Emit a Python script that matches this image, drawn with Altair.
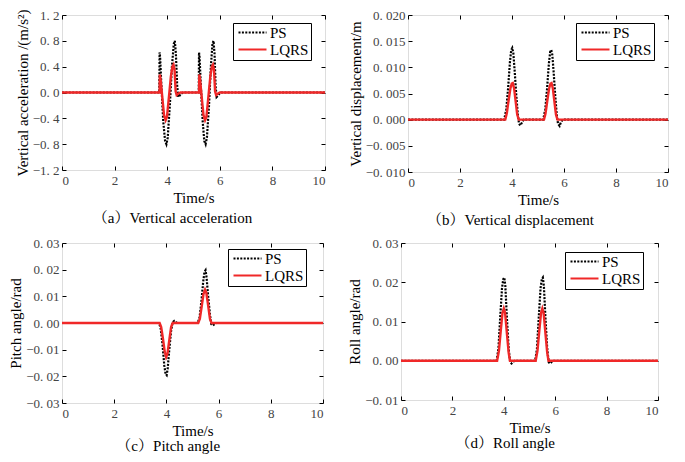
import altair as alt
import pandas as pd

# ---------------- data ----------------
SERIES = ["PS", "LQRS"]
X_TICKS = [0, 2, 4, 6, 8, 10]

# (a) vertical acceleration, m/s^2
A_PS = [(0, 0), (3.70, 0), (3.71, 0.62), (3.73, 0.55), (3.78, 0.10), (3.85, -0.45),
        (3.92, -0.75), (3.97, -0.80), (4.02, -0.70), (4.10, -0.20), (4.18, 0.40),
        (4.25, 0.75), (4.29, 0.80), (4.33, 0.60), (4.38, 0.10), (4.42, -0.07),
        (4.47, -0.05), (4.52, -0.02), (4.60, 0), (5.20, 0), (5.21, 0.62), (5.23, 0.55),
        (5.28, 0.10), (5.35, -0.45), (5.41, -0.75), (5.46, -0.80), (5.51, -0.70),
        (5.59, -0.20), (5.66, 0.40), (5.72, 0.75), (5.76, 0.80), (5.80, 0.60),
        (5.84, 0.10), (5.88, -0.07), (5.93, -0.05), (5.98, -0.02), (6.05, 0), (10, 0)]
A_LQ = [(0, 0), (3.71, 0), (3.72, 0.28), (3.75, 0.20), (3.82, -0.10), (3.88, -0.35),
        (3.94, -0.43), (3.99, -0.38), (4.07, -0.05), (4.14, 0.25), (4.20, 0.40),
        (4.24, 0.43), (4.28, 0.35), (4.32, 0.02), (4.36, -0.04), (4.42, -0.02),
        (4.50, 0), (5.21, 0), (5.22, 0.28), (5.25, 0.20), (5.32, -0.10), (5.38, -0.35),
        (5.44, -0.43), (5.49, -0.38), (5.57, -0.05), (5.64, 0.25), (5.70, 0.40),
        (5.74, 0.43), (5.78, 0.35), (5.82, 0.02), (5.86, -0.04), (5.92, -0.02),
        (6.00, 0), (10, 0)]
A_YTICKS = [-1.2, -0.8, -0.4, 0.0, 0.4, 0.8, 1.2]

# (b) vertical displacement, m
B_PS = [(0, 0), (3.70, 0), (3.78, 0.002), (3.85, 0.006), (3.92, 0.0110), (3.97, 0.0133),
        (4.01, 0.0137), (4.05, 0.0128), (4.10, 0.0095), (4.16, 0.0050), (4.22, 0.0012),
        (4.27, -0.0008), (4.32, -0.0011), (4.38, -0.0006), (4.45, 0), (5.20, 0),
        (5.28, 0.002), (5.35, 0.006), (5.42, 0.0108), (5.47, 0.0130), (5.51, 0.0133),
        (5.55, 0.0124), (5.60, 0.0092), (5.66, 0.0048), (5.72, 0.0010), (5.77, -0.0008),
        (5.83, -0.0012), (5.88, -0.0005), (5.95, 0), (10, 0)]
B_LQ = [(0, 0), (3.74, 0), (3.80, 0.0012), (3.87, 0.0037), (3.94, 0.0060), (3.99, 0.0069),
        (4.03, 0.0070), (4.08, 0.0060), (4.14, 0.0035), (4.20, 0.0010), (4.26, 0),
        (5.23, 0), (5.29, 0.0012), (5.36, 0.0037), (5.43, 0.0060), (5.48, 0.0069),
        (5.52, 0.0070), (5.57, 0.0060), (5.63, 0.0035), (5.69, 0.0010), (5.75, 0), (10, 0)]
B_YTICKS = [-0.010, -0.005, 0.000, 0.005, 0.010, 0.015, 0.020]

# (c) pitch angle, rad
C_PS = [(0, 0), (3.72, 0), (3.78, -0.002), (3.85, -0.008), (3.92, -0.016), (3.97, -0.0192),
        (4.01, -0.0196), (4.05, -0.017), (4.11, -0.010), (4.18, -0.003), (4.24, 0.0003),
        (4.30, 0.0008), (4.36, 0.0003), (4.42, 0), (5.20, 0), (5.27, 0.002), (5.34, 0.008),
        (5.41, 0.0155), (5.46, 0.0192), (5.50, 0.0198), (5.54, 0.017), (5.60, 0.010),
        (5.67, 0.003), (5.72, -0.0004), (5.78, -0.0009), (5.84, -0.0004), (5.90, 0), (10, 0)]
C_LQ = [(0, 0), (3.74, 0), (3.80, -0.0015), (3.87, -0.006), (3.94, -0.0110), (3.99, -0.0128),
        (4.04, -0.0115), (4.11, -0.0065), (4.18, -0.0015), (4.24, 0), (5.22, 0),
        (5.28, 0.0015), (5.35, 0.006), (5.42, 0.0108), (5.48, 0.0125), (5.53, 0.0113),
        (5.60, 0.0065), (5.67, 0.0015), (5.73, 0), (10, 0)]
C_YTICKS = [-0.03, -0.02, -0.01, 0.00, 0.01, 0.02, 0.03]

# (d) roll angle, rad
D_PS = [(0, 0), (3.72, 0), (3.79, 0.003), (3.86, 0.011), (3.93, 0.0185), (3.98, 0.0208),
        (4.02, 0.0212), (4.06, 0.019), (4.12, 0.011), (4.19, 0.003), (4.25, -0.0004),
        (4.30, -0.0007), (4.36, -0.0003), (4.42, 0), (5.22, 0), (5.29, 0.003), (5.36, 0.011),
        (5.43, 0.0185), (5.48, 0.0208), (5.52, 0.0212), (5.56, 0.019), (5.62, 0.011),
        (5.69, 0.003), (5.75, -0.0004), (5.80, -0.0007), (5.86, -0.0003), (5.92, 0), (10, 0)]
D_LQ = [(0, 0), (3.74, 0), (3.81, 0.0025), (3.88, 0.0075), (3.95, 0.0122), (4.00, 0.0133),
        (4.05, 0.0122), (4.12, 0.0070), (4.19, 0.0020), (4.24, 0), (5.24, 0),
        (5.31, 0.0025), (5.38, 0.0075), (5.45, 0.0122), (5.50, 0.0133), (5.55, 0.0122),
        (5.62, 0.0070), (5.69, 0.0020), (5.74, 0), (10, 0)]
D_YTICKS = [-0.01, 0.00, 0.01, 0.02, 0.03]

# ---------------- styling ----------------
SERIF = "Liberation Serif, Times New Roman, Noto Serif CJK SC, Noto Sans CJK SC, serif"
TICKF = "Liberation Serif, serif"
RED = "#f02828"


def frame(pairs, name):
    return pd.DataFrame({"t": [p[0] for p in pairs], "v": [p[1] for p in pairs], "series": name})


def panel(ps, lq, yticks, fmt, ytitle, caption, w, h, lx, ly, cap_off):
    xs = alt.Scale(domain=[0, 10], nice=False, zero=False)
    ys = alt.Scale(domain=[yticks[0], yticks[-1]], nice=False, zero=False)
    color = alt.Scale(domain=SERIES, range=["black", RED])
    dash = alt.Scale(domain=SERIES, range=[[2, 1.4], [1, 0]])
    legend = alt.Legend(orient="none", legendX=lx, legendY=ly, strokeColor="black",
                        fillColor="white", padding=2, symbolType="M-1,0H6", symbolSize=64,
                        symbolStrokeWidth=2.2, labelFont=SERIF, labelFontSize=15,
                        labelColor="black", labelOffset=20, rowPadding=1, cornerRadius=0)
    common = dict(domain=False, grid=False, tickSize=4, offset=-4, tickColor="black",
                  tickWidth=1, minExtent=0)
    xa = alt.Axis(values=X_TICKS, title="Time/s", labelFont=TICKF, labelFontSize=13,
                  labelColor="#444", labelPadding=4, titleFont=SERIF, titleFontSize=15,
                  titleFontWeight="normal", titleColor="black", titlePadding=3, **common)
    ya = alt.Axis(values=yticks, format=fmt, labelExpr="replace(datum.label, '.', '. ')",
                  title=ytitle, labelFont=TICKF, labelFontSize=13, labelColor="#444",
                  labelPadding=3, titleFont=SERIF, titleFontSize=15,
                  titleFontWeight="normal", titleColor="black", titlePadding=2, **common)
    xt = alt.Axis(values=X_TICKS, orient="top", labels=False, title=None, **common)
    yr = alt.Axis(values=yticks, orient="right", labels=False, title=None, **common)

    enc_c = alt.Color("series:N", scale=color, legend=legend, title=None)
    enc_d = alt.StrokeDash("series:N", scale=dash, legend=legend, title=None)
    l1 = alt.Chart(frame(ps, "PS")).mark_line(strokeWidth=2.2).encode(
        x=alt.X("t:Q", scale=xs, axis=xa), y=alt.Y("v:Q", scale=ys, axis=ya),
        color=enc_c, strokeDash=enc_d)
    l2 = alt.Chart(frame(lq, "LQRS")).mark_line(strokeWidth=2.4).encode(
        x=alt.X("t:Q", scale=xs, axis=xt), y=alt.Y("v:Q", scale=ys, axis=yr),
        color=enc_c, strokeDash=enc_d)
    return alt.layer(l1, l2).resolve_axis(x="independent", y="independent").properties(
        width=w, height=h,
        title=alt.TitleParams(caption, orient="bottom", frame="bounds", anchor="middle",
                              font=SERIF, fontSize=15, fontWeight="normal", color="black",
                              offset=cap_off))


pa = panel(A_PS, A_LQ, A_YTICKS, ".1f", "Vertical acceleration /(m/s²)",
           "（a）Vertical acceleration", 263, 155, 171, 8, 6)
pb = panel(B_PS, B_LQ, B_YTICKS, ".3f", "Vertical displacement/m",
           "（b）Vertical displacement", 260, 157, 168, 8, 6)
pc = panel(C_PS, C_LQ, C_YTICKS, ".2f", "Pitch angle/rad",
           "（c）Pitch angle", 261, 160, 166, 6, 1)
pd_ = panel(D_PS, D_LQ, D_YTICKS, ".2f", "Roll angle/rad",
            "（d）Roll angle", 257, 157, 164, 9, 1)

row1 = alt.hconcat(pa, pb, spacing=16).resolve_scale(color="independent", strokeDash="independent")
row2 = alt.hconcat(pc, pd_, spacing=18).resolve_scale(color="independent", strokeDash="independent")
chart = alt.vconcat(row1, row2, spacing=7).resolve_scale(
    color="independent", strokeDash="independent").configure_view(
    stroke="black", strokeWidth=1).configure_axis(titleFontWeight="normal").configure(
    background="white").properties(padding=0)

chart.save("out.html", embed_options={"renderer": "svg", "actions": False})
